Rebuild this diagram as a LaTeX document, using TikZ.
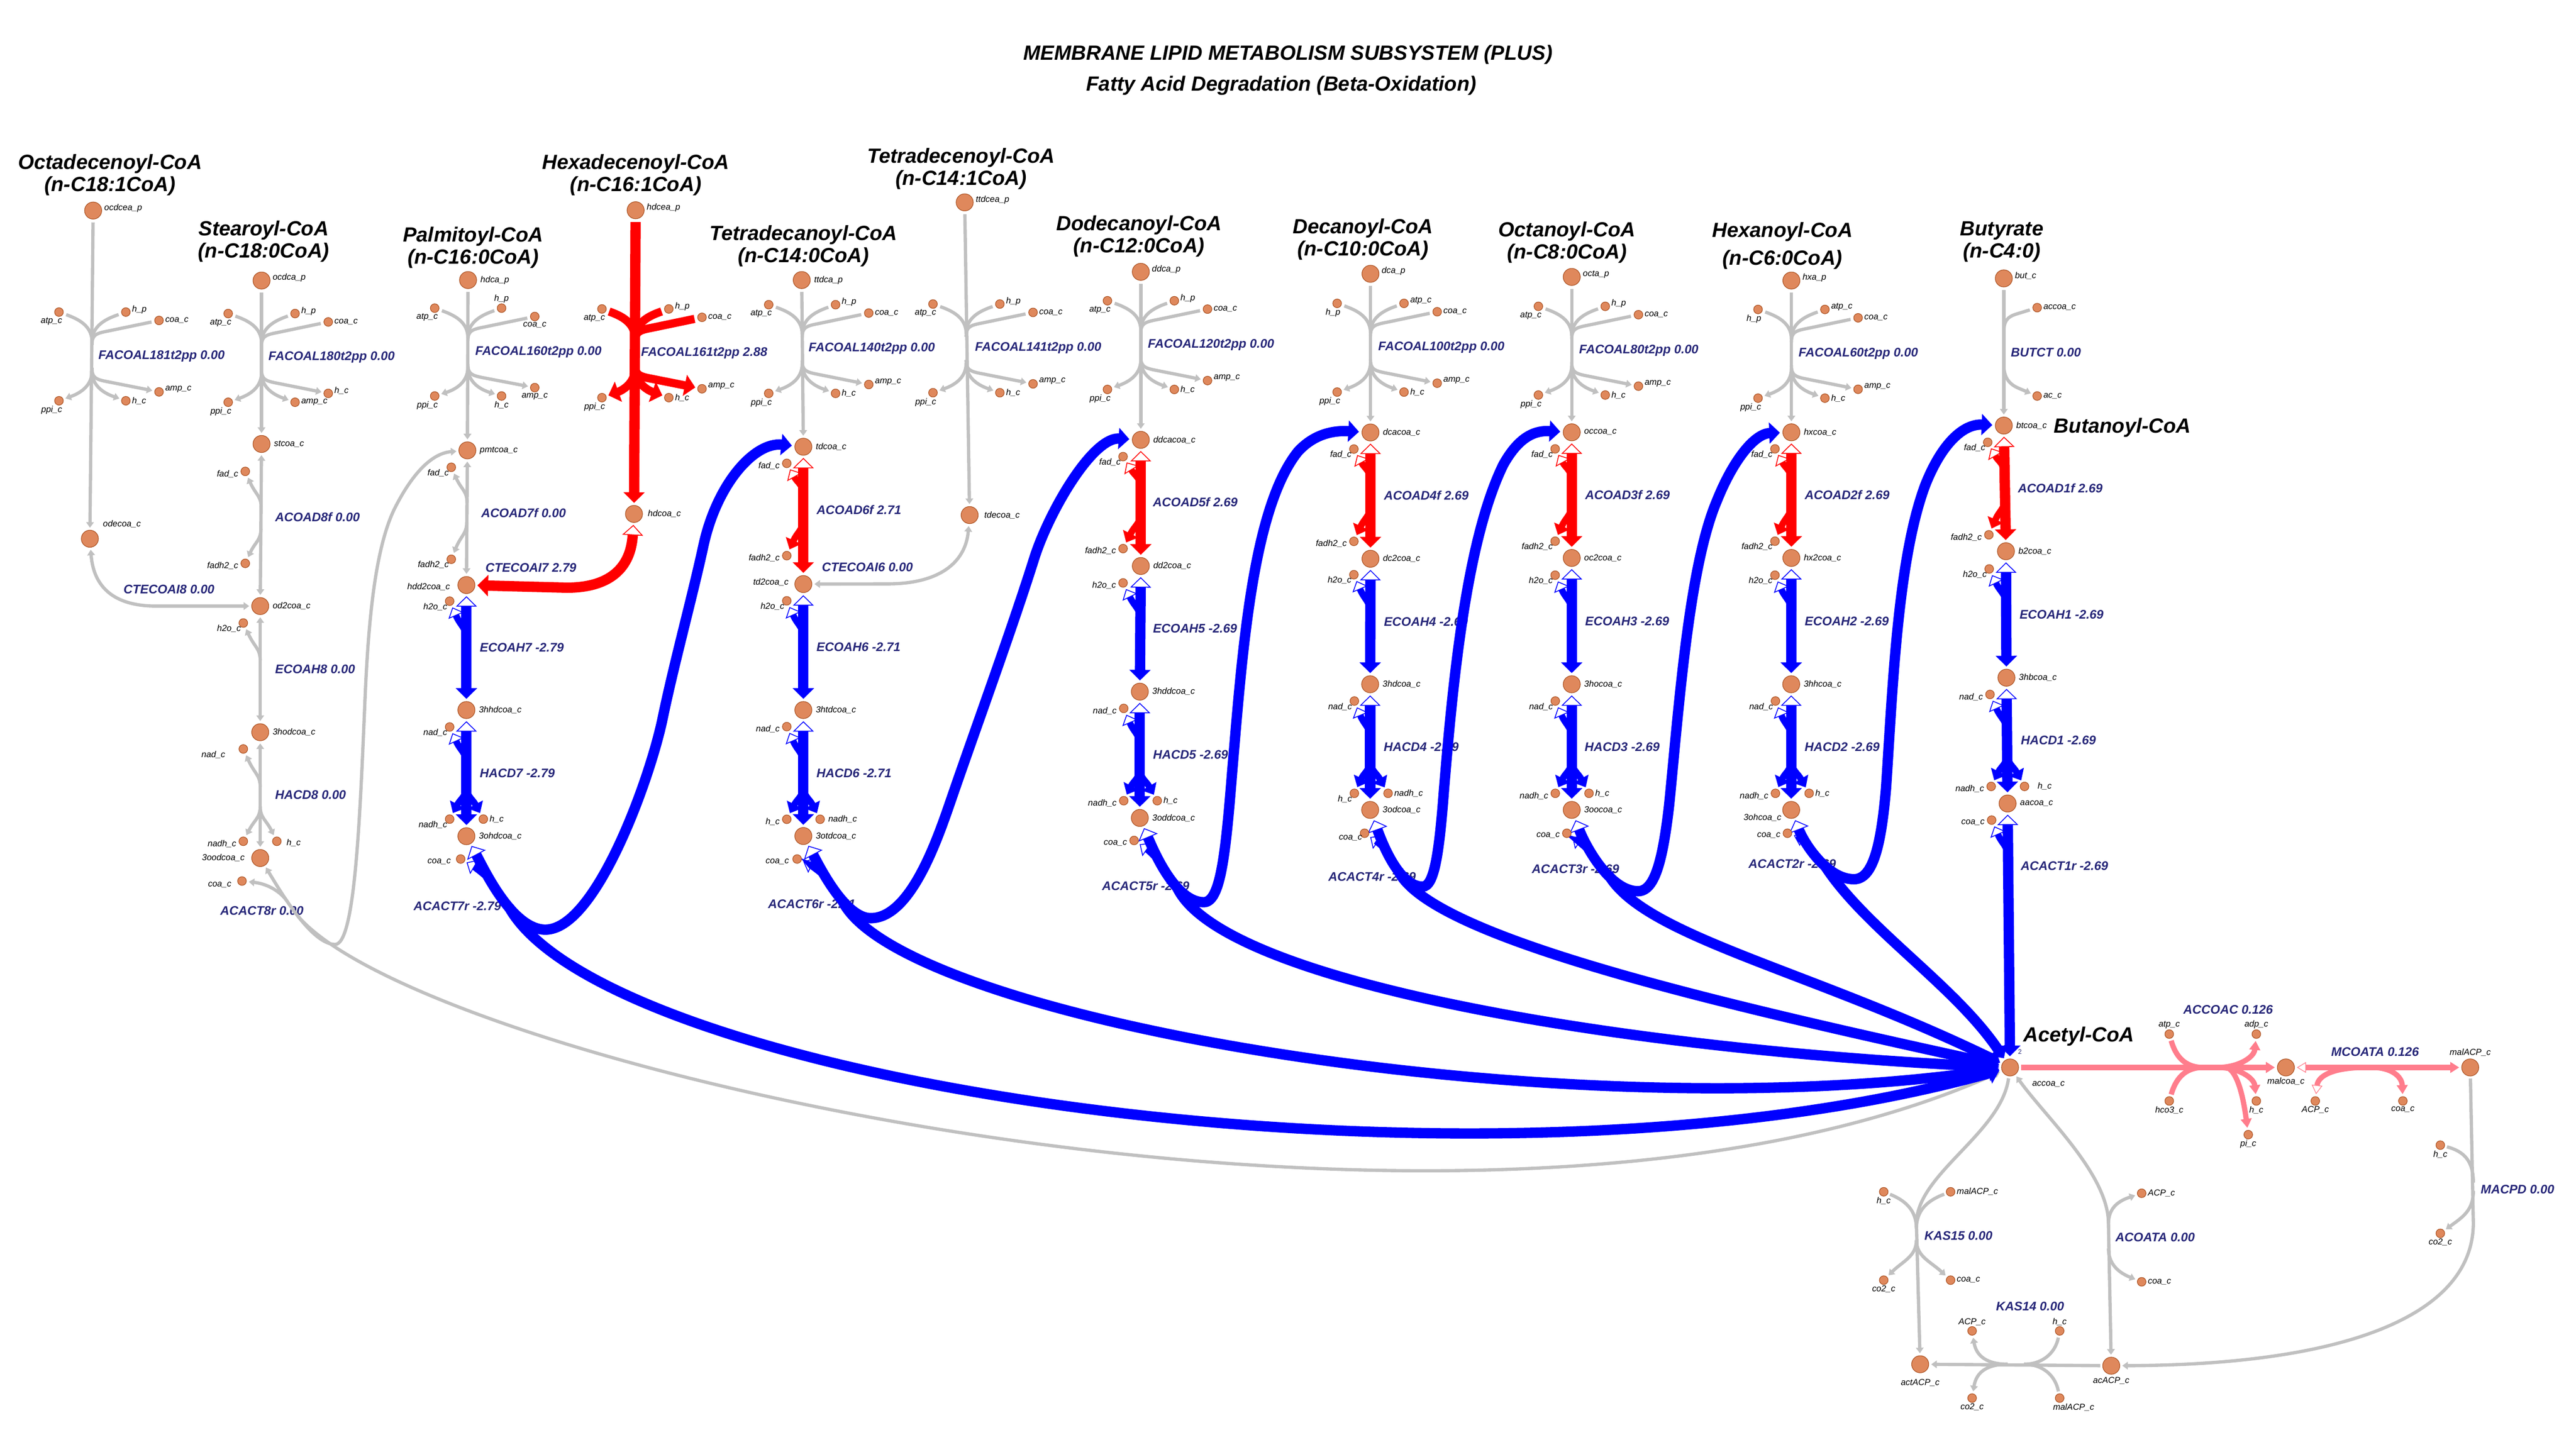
\documentclass[tikz,border=0pt]{standalone}
\usepackage{fontspec}
\setmainfont{Liberation Sans}
\usetikzlibrary{arrows.meta,calc}
\definecolor{metfill}{RGB}{223,136,92}
\definecolor{metdraw}{RGB}{168,78,30}
\definecolor{rxcol}{RGB}{38,38,120}
\definecolor{lgray}{RGB}{192,192,192}
\definecolor{pblue}{RGB}{0,0,255}
\definecolor{pred}{RGB}{255,0,0}
\definecolor{ppink}{RGB}{255,125,140}
\pgfdeclarelayer{rlayer}
\pgfdeclarelayer{elayer}
\pgfsetlayers{rlayer,elayer,main}
\newcommand{\mlabfont}{\fontsize{5.3}{6}\selectfont\itshape}
\newcommand{\rxlabfont}{\fontsize{7.6}{9}\selectfont\bfseries\itshape}
\newcommand{\ttlfont}{\fontsize{12.5}{13.5}\selectfont\bfseries\itshape}
\tikzset{
 every node/.style={inner sep=0pt,outer sep=0pt},
 met/.style={circle,fill=metfill,draw=metdraw,line width=0.35pt,minimum size=10.4pt},
 smet/.style={circle,fill=metfill,draw=metdraw,line width=0.35pt,minimum size=5.3pt},
 mlab/.style={font=\mlabfont,text=black},
 rlab/.style={font=\rxlabfont,text=rxcol,anchor=west},
 ttl/.style={font=\ttlfont,align=center,text=black},
 gl/.style={draw=lgray,line width=2pt},
 bl/.style={draw=pblue,line width=6.3pt},
 rl/.style={draw=pred,line width=6.3pt},
 bs/.style={draw=pblue,line width=4pt},
 rs/.style={draw=pred,line width=4pt},
 rsf/.style={draw=pred,line width=5pt},
 pl/.style={draw=ppink,line width=3.2pt},
 hopen/.tip={Triangle[open,width=12.7pt,length=6.3pt,line width=0.5pt]},
 ffill/.tip={Triangle[width=12.7pt,length=6.5pt]},
 sopen/.tip={Triangle[open,width=10pt,length=5.5pt,line width=0.5pt]},
 sfill/.tip={Triangle[width=10pt,length=6pt]},
 gtip/.tip={Triangle[width=4.6pt,length=3.4pt]},
 pfill/.tip={Triangle[width=6.5pt,length=5.5pt]},
 popen/.tip={Triangle[open,width=6.5pt,length=5.5pt,line width=0.4pt]},
 slabR/.style={anchor=west,xshift=3.8pt},
 slabRA/.style={anchor=west,xshift=3.8pt,yshift=1.6pt},
 slabL/.style={anchor=east,xshift=-4.3pt,yshift=-1.5pt},
 slabLB/.style={anchor=north east,xshift=-1.5pt,yshift=-1.2pt},
 slabBL/.style={anchor=north east,xshift=1.9pt,yshift=-3.3pt},
 slabB/.style={anchor=north,yshift=-3.3pt},
 slabA/.style={anchor=south,yshift=3.3pt},
 labR/.style={anchor=west,xshift=7.6pt},
 labRA/.style={anchor=west,xshift=6.8pt,yshift=1.6pt},
 labL/.style={anchor=east,xshift=-9.5pt},
}
\newcommand{\MetB}[5]{\node[met] (#1) at (#2,#3) {}; \node[mlab,#5] (#1l) at (#1) {#4};}
\newcommand{\MetS}[5]{\node[smet] (#1) at (#2,#3) {}; \node[mlab,#5] (#1l) at (#1) {#4};}
\newcommand{\RxL}[4]{\node[rlab] (#1) at (#2,#3) {#4};}
\newcommand{\FACn}[7]{%
 \MetS{#1in1}{#2-20.3}{#3}{#4}{slabBL}%
 \MetS{#1in2}{#2+20.4}{#3}{#5}{slabRA}%
 \MetS{#1in3}{#2+40.6}{#3+5.1}{coa\_c}{slabR}%
 \MetS{#1out1}{#2-20.3}{#3+54}{ppi\_c}{slabBL}%
 \MetS{#1out2}{#2+20.4}{#3+54}{#6}{slabR}%
 \MetS{#1out3}{#2+40.6}{#3+48.6}{#7}{slabRA}%
}
\newcommand{\FACe}[9]{%
 \draw[#2,-{#3},shorten <=2pt,shorten >=1.5pt] (#8) -- (#9);
 \draw[#4,shorten <=2pt] (#1in1) .. controls (#6-9,#7+4) and (#6,#7+8) .. (#6,#7+18);
 \draw[#4,shorten <=2pt] (#1in2) .. controls (#6+9,#7+4) and (#6,#7+8) .. (#6,#7+18);
 \draw[#4,shorten <=2pt] (#1in3) -- (#6+10,#7+11.5) .. controls (#6+2,#7+13) and (#6,#7+14) .. (#6,#7+20);
 \draw[#4,-{#5},shorten >=1.5pt] (#6,#7+36) .. controls (#6,#7+46) and (#6-9,#7+50) .. (#1out1);
 \draw[#4,-{#5},shorten >=1.5pt] (#6,#7+36) .. controls (#6,#7+46) and (#6+9,#7+50) .. (#1out2);
 \draw[#4,-{#5},shorten >=1.5pt] (#6,#7+34) .. controls (#6,#7+40) and (#6+2,#7+41) .. (#6+10,#7+42.5) -- (#1out3);
}
\newcommand{\stepmain}[5]{\draw[#1,{#2}-{#3},shorten <=1.6pt,shorten >=1.6pt] (#4) -- (#5);}
\newcommand{\sidein}[5]{\draw[#1,-{#2},shorten >=1.5pt] (#3,#4) .. controls (#3,#4-7) and (#3-3.5,#4-8) .. (#5);}
\newcommand{\sideoutL}[5]{\draw[#1,-{#2},shorten >=1.5pt] (#3,#4) .. controls (#3,#4+7) and (#3-3.5,#4+8) .. (#5);}
\newcommand{\sideoutR}[5]{\draw[#1,-{#2},shorten >=1.5pt] (#3,#4) .. controls (#3,#4+7) and (#3+3.5,#4+8) .. (#5);}

\begin{document}
\begin{tikzpicture}[x=1pt,y=-1pt]
\useasboundingbox (0,0) rectangle (1568,873.4);

% ---------- titles ----------
\node[ttl] (main1) at (784,33.2) {MEMBRANE LIPID METABOLISM SUBSYSTEM (PLUS)};
\node[ttl] (main2) at (780,52) {Fatty Acid Degradation (Beta-Oxidation)};
\node[ttl] (tA) at (67,106.4) {Octadecenoyl-CoA\\(n-C18:1CoA)};
\node[ttl] (tB) at (160.5,147) {Stearoyl-CoA\\(n-C18:0CoA)};
\node[ttl] (tC) at (288,150.6) {Palmitoyl-CoA\\(n-C16:0CoA)};
\node[ttl] (tD) at (387,106.5) {Hexadecenoyl-CoA\\(n-C16:1CoA)};
\node[ttl] (tE) at (489,149.7) {Tetradecanoyl-CoA\\(n-C14:0CoA)};
\node[ttl] (tF) at (585,102.9) {Tetradecenoyl-CoA\\(n-C14:1CoA)};
\node[ttl] (tG) at (693.3,143.9) {Dodecanoyl-CoA\\(n-C12:0CoA)};
\node[ttl] (tH) at (829.6,145.6) {Decanoyl-CoA\\(n-C10:0CoA)};
\node[ttl] (tI) at (953.8,147.5) {Octanoyl-CoA\\(n-C8:0CoA)};
\node[ttl] (tJ) at (1085,149.6) {Hexanoyl-CoA\\[3.3pt](n-C6:0CoA)};
\node[ttl] (tK) at (1218.5,147.1) {Butyrate\\(n-C4:0)};
\node[ttl,anchor=west] (tbut) at (1250.3,260.2) {Butanoyl-CoA};
\node[ttl] (tace) at (1265.4,631.1) {Acetyl-CoA};

% ---------- column A ----------
\MetB{ocdcea}{56.7}{128.2}{ocdcea\_p}{labRA}
\FACn{A}{56.2}{190}{atp\_c}{h\_p}{h\_c}{amp\_c}
\MetB{odecoa}{54.7}{328}{odecoa\_c}{anchor=west,xshift=8pt,yshift=9pt}

% ---------- column B ----------
\MetB{ocdca}{159.2}{170.8}{ocdca\_p}{labRA}
\FACn{B}{159.2}{190.9}{atp\_c}{h\_p}{amp\_c}{h\_c}
\MetB{stcoa}{159.2}{270.3}{stcoa\_c}{labR}
\MetS{Bfad}{149.3}{287}{fad\_c}{slabL}
\MetS{Bfadh}{149.3}{343}{fadh2\_c}{slabL}
\MetB{od2coa}{158.4}{369}{od2coa\_c}{labR}
\MetS{Bh2o}{148.1}{379.3}{h2o\_c}{slabLB}
\MetB{hyB}{158.4}{445.8}{3hodcoa\_c}{labR}
\MetS{Bnad}{148.1}{456}{nad\_c}{anchor=east,xshift=-11pt,yshift=-3.5pt}
\MetS{Bnadh}{148.1}{512.2}{nadh\_c}{slabL}
\MetS{Bh}{168.5}{512.2}{h\_c}{anchor=west,xshift=6pt,yshift=-1pt}
\MetB{oxB}{158.4}{522.4}{3oodcoa\_c}{labL}
\MetS{Bcoa}{147.3}{536.4}{coa\_c}{anchor=east,xshift=-6.5pt,yshift=-2.5pt}

% ---------- column C ----------
\MetB{hdca}{284.9}{170.5}{hdca\_p}{labR}
\MetS{Cin1}{264.6}{187.6}{atp\_c}{slabBL}
\MetS{Cin2}{305.3}{187.6}{h\_p}{slabA}
\MetS{Cin3}{325.5}{192.7}{coa\_c}{slabB}
\MetS{Cout1}{264.6}{241.1}{ppi\_c}{slabBL}
\MetS{Cout2}{305.3}{241.1}{h\_c}{slabB}
\MetS{Cout3}{325.5}{236}{amp\_c}{slabB}
\MetB{pmtcoa}{284.5}{274.2}{pmtcoa\_c}{labR}
\MetS{Cfad}{274.7}{284.5}{fad\_c}{slabLB}
\MetS{Cfadh}{274.7}{340.5}{fadh2\_c}{slabLB}
\MetB{hdd2coa}{283.9}{356.2}{hdd2coa\_c}{anchor=east,xshift=-10pt,yshift=-1pt}
\MetS{Ch2o}{273.7}{366}{h2o\_c}{slabLB}
\MetB{hyC}{283.9}{432.3}{3hhdcoa\_c}{labR}
\MetS{Cnad}{273.7}{442.6}{nad\_c}{slabLB}
\MetS{Cnadh}{273.7}{498.7}{nadh\_c}{slabLB}
\MetS{Ch}{294.2}{498.7}{h\_c}{slabR}
\MetB{oxC}{283.9}{509.1}{3ohdcoa\_c}{labR}
\MetS{Ccoa}{280.4}{523}{coa\_c}{anchor=east,xshift=-6pt,yshift=-1.5pt}

% ---------- column D ----------
\MetB{hdcea}{386.9}{128}{hdcea\_p}{labRA}
\FACn{D}{386.7}{188.1}{atp\_c}{h\_p}{h\_c}{amp\_c}
\MetB{hdcoa}{385.9}{312.9}{hdcoa\_c}{anchor=west,xshift=8.5pt}

% ---------- column E ----------
\MetB{ttdca}{488}{170.5}{ttdca\_p}{labR}
\FACn{E}{488.2}{185.5}{atp\_c}{h\_p}{h\_c}{amp\_c}
\MetB{tdcoa}{489}{272}{tdcoa\_c}{labR}
\MetS{Efad}{478.9}{282.1}{fad\_c}{slabL}
\MetS{Efadh}{478.9}{338.3}{fadh2\_c}{slabL}
\MetB{td2coa}{489}{355.6}{td2coa\_c}{anchor=east,xshift=-9pt,yshift=1pt}
\MetS{Eh2o}{478.9}{365.8}{h2o\_c}{slabLB}
\MetB{hyE}{489}{432.3}{3htdcoa\_c}{labR}
\MetS{Enad}{478.9}{442.4}{nad\_c}{slabL}
\MetS{Eh}{478.9}{498.8}{h\_c}{slabL}
\MetS{Enadh}{499.2}{498.8}{nadh\_c}{anchor=west,xshift=5pt}
\MetB{oxE}{489}{509}{3otdcoa\_c}{labR}
\MetS{Ecoa}{485.2}{523}{coa\_c}{anchor=east,xshift=-5pt,yshift=-1.5pt}

% ---------- column F ----------
\MetB{ttdcea}{587.2}{123.2}{ttdcea\_p}{labRA}
\FACn{F}{588.2}{185.1}{atp\_c}{h\_p}{h\_c}{amp\_c}
\MetB{tdecoa}{590.2}{313.6}{tdecoa\_c}{anchor=west,xshift=9pt}

% ---------- column G ----------
\MetB{ddca}{694.4}{165.5}{ddca\_p}{labRA}
\FACn{G}{694.4}{183.1}{atp\_c}{h\_p}{h\_c}{amp\_c}
\MetB{ddcacoa}{694.4}{267.8}{ddcacoa\_c}{labR}
\MetS{Gfad}{683.6}{278}{fad\_c}{slabLB}
\MetS{Gfadh}{683.6}{334}{fadh2\_c}{slabL}
\MetB{dd2coa}{694.4}{344.6}{dd2coa\_c}{labR}
\MetS{Gh2o}{683.6}{354.9}{h2o\_c}{slabL}
\MetB{hyG}{693.8}{421.1}{3hddcoa\_c}{labR}
\MetS{Gnad}{684}{431.3}{nad\_c}{slabL}
\MetS{Gnadh}{684}{487.5}{nadh\_c}{slabL}
\MetS{Gh}{704.4}{487.5}{h\_c}{slabR}
\MetB{oxG}{693.8}{498}{3oddcoa\_c}{labR}
\MetS{Gcoa}{690.3}{511.7}{coa\_c}{slabL}

% ---------- column H ----------
\MetB{dca}{834.2}{166.7}{dca\_p}{labRA}
\FACn{H}{834.2}{184.7}{h\_p}{atp\_c}{h\_c}{amp\_c}
\MetB{dcacoa}{834.2}{263.3}{dcacoa\_c}{labR}
\MetS{Hfad}{824.1}{273.4}{fad\_c}{slabLB}
\MetS{Hfadh}{824.1}{329.6}{fadh2\_c}{slabL}
\MetB{dc2coa}{834.2}{340.2}{dc2coa\_c}{labR}
\MetS{Hh2o}{824.1}{349.9}{h2o\_c}{slabLB}
\MetB{hyH}{834}{416.6}{3hdcoa\_c}{labR}
\MetS{Hnad}{824.4}{426.8}{nad\_c}{slabLB}
\MetS{Hh}{824.4}{483}{h\_c}{slabLB}
\MetS{Hnadh}{844.9}{483}{nadh\_c}{slabR}
\MetB{oxH}{834}{493.1}{3odcoa\_c}{labR}
\MetS{Hcoa}{830.6}{507.3}{coa\_c}{slabLB}

% ---------- column I ----------
\MetB{octa}{956.7}{168.6}{octa\_p}{labRA}
\FACn{I}{956.7}{186.5}{atp\_c}{h\_p}{h\_c}{amp\_c}
\MetB{occoa}{956.7}{263.2}{occoa\_c}{labR}
\MetS{Ifad}{946.6}{273.3}{fad\_c}{slabLB}
\MetS{Ifadh}{946.6}{329.5}{fadh2\_c}{slabLB}
\MetB{oc2coa}{956.7}{339.7}{oc2coa\_c}{labR}
\MetS{Ih2o}{946.6}{350.2}{h2o\_c}{slabLB}
\MetB{hyI}{956.7}{416.6}{3hocoa\_c}{labR}
\MetS{Inad}{946.7}{426.8}{nad\_c}{slabLB}
\MetS{Inadh}{946.7}{483}{nadh\_c}{slabL}
\MetS{Ih}{967.2}{483}{h\_c}{slabR}
\MetB{oxI}{956.7}{493.1}{3oocoa\_c}{labR}
\MetS{Icoa}{953.7}{507.3}{coa\_c}{slabL}

% ---------- column J ----------
\MetB{hxa}{1090.4}{170.8}{hxa\_p}{labRA}
\FACn{J}{1090.4}{188.4}{h\_p}{atp\_c}{h\_c}{amp\_c}
\MetB{hxcoa}{1090.4}{263.2}{hxcoa\_c}{labR}
\MetS{Jfad}{1080.4}{273.3}{fad\_c}{slabLB}
\MetS{Jfadh}{1080.4}{329.5}{fadh2\_c}{slabLB}
\MetB{hx2coa}{1090.4}{339.7}{hx2coa\_c}{labR}
\MetS{Jh2o}{1080.4}{350.2}{h2o\_c}{slabLB}
\MetB{hyJ}{1090.3}{416.6}{3hhcoa\_c}{labR}
\MetS{Jnad}{1080.7}{426.8}{nad\_c}{slabLB}
\MetS{Jnadh}{1080.7}{483}{nadh\_c}{slabL}
\MetS{Jh}{1101.2}{483}{h\_c}{slabR}
\MetB{oxJ}{1090.3}{493.1}{3ohcoa\_c}{anchor=east,xshift=-6pt,yshift=-4.8pt}
\MetS{Jcoa}{1088}{507.3}{coa\_c}{slabL}

% ---------- column K ----------
\MetB{but}{1219.7}{169.5}{but\_c}{labRA}
\MetS{Kaccoa}{1240}{187.3}{accoa\_c}{slabR}
\MetS{Kac}{1240}{241.1}{ac\_c}{slabR}
\MetB{btcoa}{1219.7}{259.1}{btcoa\_c}{labR}
\MetS{Kfad}{1209.9}{269.3}{fad\_c}{slabLB}
\MetS{Kfadh}{1210.6}{325.6}{fadh2\_c}{slabL}
\MetB{b2coa}{1221}{335.6}{b2coa\_c}{labR}
\MetS{Kh2o}{1210.8}{346.4}{h2o\_c}{slabLB}
\MetB{hyK}{1221.3}{412.6}{3hbcoa\_c}{labR}
\MetS{Knad}{1211.3}{422.8}{nad\_c}{slabL}
\MetS{Knadh}{1212}{478.8}{nadh\_c}{slabL}
\MetS{Kh}{1232.3}{478.8}{h\_c}{anchor=west,xshift=8pt}
\MetB{aacoa}{1222}{489.2}{aacoa\_c}{labR}
\MetS{Kcoa}{1212.3}{499.3}{coa\_c}{slabL}

% ---------- acetyl-CoA region ----------
\MetB{accoa}{1223.5}{649.9}{accoa\_c}{anchor=west,xshift=13.5pt,yshift=-10.2pt}
\node[font=\fontsize{4}{4}\selectfont,text=rxcol] (two) at (1229.5,640.3) {2};
\MetB{malcoa}{1391.4}{649.9}{malcoa\_c}{anchor=north,yshift=-6.3pt}
\MetB{malACP}{1503.6}{649.9}{malACP\_c}{anchor=south,yshift=7pt}
\MetS{atpA}{1320.4}{629.6}{atp\_c}{slabA}
\MetS{adpA}{1373.4}{629.6}{adp\_c}{slabA}
\MetS{hco3}{1320.4}{670.3}{hco3\_c}{slabB}
\MetS{hA}{1373.4}{670.3}{h\_c}{slabB}
\MetS{piA}{1368.5}{690.8}{pi\_c}{slabB}
\MetS{ACPm}{1409.3}{670.3}{ACP\_c}{slabB}
\MetS{coam}{1462.6}{670.3}{coa\_c}{slabB}
\MetS{hmac}{1485.4}{697.2}{h\_c}{slabB}
\MetS{co2mac}{1485.4}{750.9}{co2\_c}{slabB}
\MetS{hk15}{1146.6}{725.6}{h\_c}{slabB}
\MetS{malk15}{1187.3}{725.6}{malACP\_c}{slabR}
\MetS{co2k15}{1146.6}{779.4}{co2\_c}{slabB}
\MetS{coak15}{1187.3}{779.4}{coa\_c}{slabR}
\MetS{ACPa}{1303.6}{726.5}{ACP\_c}{slabR}
\MetS{coaa}{1303.6}{780.4}{coa\_c}{slabR}
\MetS{ACPk14}{1200.4}{810.3}{ACP\_c}{slabA}
\MetS{hk14}{1253.7}{810.3}{h\_c}{slabA}
\MetS{co2k14}{1200.4}{851.2}{co2\_c}{slabB}
\MetS{malk14}{1253.7}{851.2}{malACP\_c}{anchor=north,xshift=8.5pt,yshift=-3.3pt}
\MetB{actACP}{1168.8}{830.6}{actACP\_c}{anchor=north,yshift=-9pt}
\MetB{acACP}{1285.1}{831.5}{acACP\_c}{anchor=north,yshift=-7pt}

% ---------- reaction labels ----------
\begin{pgfonlayer}{rlayer}
\RxL{rA1}{59.9}{217}{FACOAL181t2pp 0.00}
\RxL{rB1}{163.4}{217.4}{FACOAL180t2pp 0.00}
\RxL{rB2}{167.5}{314.9}{ACOAD8f 0.00}
\RxL{rB3}{167.5}{407.4}{ECOAH8 0.00}
\RxL{rB4}{167.5}{484}{HACD8 0.00}
\RxL{rB5}{134.1}{554.6}{ACACT8r 0.00}
\RxL{rB6}{75.2}{358.9}{CTECOAI8 0.00}
\RxL{rC1}{289.3}{214.3}{FACOAL160t2pp 0.00}
\RxL{rC2}{292.9}{312.4}{ACOAD7f 0.00}
\RxL{rC3}{295.5}{345.7}{CTECOAI7 2.79}
\RxL{rC4}{292.1}{394.2}{ECOAH7 -2.79}
\RxL{rC5}{292.1}{470.8}{HACD7 -2.79}
\RxL{rC6}{251.8}{551.6}{ACACT7r -2.79}
\RxL{rD1}{390.2}{215}{FACOAL161t2pp 2.88}
\RxL{rE1}{492.2}{212.2}{FACOAL140t2pp 0.00}
\RxL{rE2}{497.1}{310.4}{ACOAD6f 2.71}
\RxL{rE3}{500.3}{345.3}{CTECOAI6 0.00}
\RxL{rE4}{497}{393.8}{ECOAH6 -2.71}
\RxL{rE5}{497}{470.7}{HACD6 -2.71}
\RxL{rE6}{467.5}{550.5}{ACACT6r -2.71}
\RxL{rF1}{593.5}{211.8}{FACOAL141t2pp 0.00}
\RxL{rG1}{698.7}{210.1}{FACOAL120t2pp 0.00}
\RxL{rG2}{701.8}{305.7}{ACOAD5f 2.69}
\RxL{rG3}{701.9}{382.6}{ECOAH5 -2.69}
\RxL{rG4}{701.9}{459.4}{HACD5 -2.69}
\RxL{rG5}{670.8}{539.3}{ACACT5r -2.69}
\RxL{rH1}{838.9}{211.4}{FACOAL100t2pp 0.00}
\RxL{rH2}{842.4}{301.7}{ACOAD4f 2.69}
\RxL{rH3}{842.4}{378.5}{ECOAH4 -2.69}
\RxL{rH4}{842.3}{454.9}{HACD4 -2.69}
\RxL{rH5}{808.6}{533.7}{ACACT4r -2.69}
\RxL{rI1}{961.2}{213.3}{FACOAL80t2pp 0.00}
\RxL{rI2}{964.9}{301.2}{ACOAD3f 2.69}
\RxL{rI3}{964.9}{378.1}{ECOAH3 -2.69}
\RxL{rI4}{964.6}{454.9}{HACD3 -2.69}
\RxL{rI5}{932.4}{529.2}{ACACT3r -2.69}
\RxL{rJ1}{1094.8}{215.4}{FACOAL60t2pp 0.00}
\RxL{rJ2}{1098.6}{301.2}{ACOAD2f 2.69}
\RxL{rJ3}{1098.6}{378.1}{ECOAH2 -2.69}
\RxL{rJ4}{1098.5}{454.9}{HACD2 -2.69}
\RxL{rJ5}{1064.3}{525.8}{ACACT2r -2.69}
\RxL{rK1}{1224}{214.4}{BUTCT 0.00}
\RxL{rK2}{1228.3}{297.2}{ACOAD1f 2.69}
\RxL{rK3}{1229.3}{374.2}{ECOAH1 -2.69}
\RxL{rK4}{1230.1}{450.7}{HACD1 -2.69}
\RxL{rK5}{1230}{527.2}{ACACT1r -2.69}
\RxL{rX1}{1329}{614.7}{ACCOAC 0.126}
\RxL{rX2}{1419}{640.4}{MCOATA 0.126}
\RxL{rX3}{1510}{724.2}{MACPD 0.00}
\RxL{rX4}{1171.4}{752.5}{KAS15 0.00}
\RxL{rX5}{1287.7}{753.4}{ACOATA 0.00}
\RxL{rX6}{1215}{795.2}{KAS14 0.00}
\end{pgfonlayer}

% ---------- edges ----------
\begin{pgfonlayer}{elayer}
% FACOAL transport reactions
\FACe{A}{gl}{gtip}{gl}{gtip}{56}{190}{ocdcea}{odecoa}
\FACe{B}{gl}{gtip}{gl}{gtip}{159.2}{190.9}{ocdca}{stcoa}
\FACe{C}{gl}{gtip}{gl}{gtip}{284.8}{187.6}{hdca}{pmtcoa}
\FACe{D}{rl}{ffill}{rsf}{ffill}{386.6}{188.1}{hdcea}{hdcoa}
\FACe{E}{gl}{gtip}{gl}{gtip}{488.3}{185.5}{ttdca}{tdcoa}
\FACe{F}{gl}{gtip}{gl}{gtip}{588.1}{185.1}{ttdcea}{tdecoa}
\FACe{G}{gl}{gtip}{gl}{gtip}{694.4}{183.1}{ddca}{ddcacoa}
\FACe{H}{gl}{gtip}{gl}{gtip}{834.2}{184.7}{dca}{dcacoa}
\FACe{I}{gl}{gtip}{gl}{gtip}{956.7}{186.5}{octa}{occoa}
\FACe{J}{gl}{gtip}{gl}{gtip}{1090.4}{188.4}{hxa}{hxcoa}
% BUTCT
\draw[gl,-{gtip},shorten <=2pt,shorten >=1.5pt] (but) -- (btcoa);
\draw[gl,shorten <=2pt] (Kaccoa) -- (1228,191) .. controls (1221,193) and (1219.7,196) .. (1219.7,203);
\draw[gl,-{gtip},shorten >=1.5pt] (1219.7,222) .. controls (1219.7,230) and (1223,234) .. (1229,236.5) -- (Kac);
% CTECOAI
\draw[gl,{gtip}-{gtip},shorten <=1.5pt,shorten >=1.5pt] (odecoa) .. controls (57,358) and (70,369) .. (95,369) -- (od2coa);
\draw[rl,{hopen}-{ffill},shorten <=1.5pt,shorten >=1.5pt] (hdcoa) .. controls (384,345) and (372,357.8) .. (345,357.8) -- (hdd2coa);
\draw[gl,{gtip}-{gtip},shorten <=1.5pt,shorten >=1.5pt] (tdecoa) .. controls (588,340) and (575,355.5) .. (540,355.5) -- (td2coa);

% column B (gray)
\stepmain{gl}{gtip}{gtip}{stcoa}{od2coa}
\sidein{gl}{gtip}{159}{309}{Bfad}
\sideoutL{gl}{gtip}{158.8}{322}{Bfadh}
\stepmain{gl}{gtip}{gtip}{od2coa}{hyB}
\sidein{gl}{gtip}{158.4}{402}{Bh2o}
\stepmain{gl}{gtip}{gtip}{hyB}{oxB}
\sidein{gl}{gtip}{158.4}{479}{Bnad}
\sideoutL{gl}{gtip}{158.4}{491}{Bnadh}
\sideoutR{gl}{gtip}{158.4}{491}{Bh}
\draw[gl,{gtip}-{gtip},shorten <=1.5pt,shorten >=1.5pt] (oxB) .. controls (172,545) and (190,575) .. (204,575) .. controls (216,575) and (219,500) .. (222,430) .. controls (224,380) and (228,335) .. (240,310) .. controls (250,290) and (262,276) .. (pmtcoa);
\draw[gl,-{gtip},shorten >=1.5pt] (181.4,557.8) .. controls (260,650) and (900,795) .. (accoa);
\draw[gl,-{gtip},shorten >=1.5pt] (174.8,548.7) .. controls (170,542) and (162,538) .. (Bcoa);

% column C
\stepmain{gl}{gtip}{gtip}{pmtcoa}{hdd2coa}
\sidein{gl}{gtip}{284.3}{306}{Cfad}
\sideoutL{gl}{gtip}{284.1}{318}{Cfadh}
\stepmain{bl}{hopen}{ffill}{hdd2coa}{hyC}
\sidein{bs}{sopen}{283.9}{389.2}{Ch2o}
\stepmain{bl}{hopen}{ffill}{hyC}{oxC}
\sidein{bs}{sopen}{283.9}{465.3}{Cnad}
\sideoutL{bs}{sfill}{283.9}{478.1}{Cnadh}
\sideoutR{bs}{sfill}{283.9}{478.1}{Ch}
\draw[bl,{hopen}-{ffill},shorten <=1.5pt,shorten >=1.8pt] (oxC) .. controls (295,530) and (312,566) .. (332,566) .. controls (362,566) and (394.4,478) .. (403,439) .. controls (410,405) and (421,365) .. (428,333) .. controls (436,295) and (459,269) .. (tdcoa);
\draw[bl,-{ffill},shorten >=1.5pt] (309.8,552.3) .. controls (370,660) and (900,740) .. (accoa);
\draw[bs,-{sopen},shorten >=1.5pt] (298.3,535.6) .. controls (293,531) and (289,528) .. (Ccoa);

% column E
\stepmain{rl}{hopen}{ffill}{tdcoa}{td2coa}
\sidein{rs}{sopen}{489}{302}{Efad}
\sideoutL{rs}{sfill}{489}{315.6}{Efadh}
\stepmain{bl}{hopen}{ffill}{td2coa}{hyE}
\sidein{bs}{sopen}{489}{388.6}{Eh2o}
\stepmain{bl}{hopen}{ffill}{hyE}{oxE}
\sidein{bs}{sopen}{489}{465.3}{Enad}
\sideoutL{bs}{sfill}{489}{478}{Eh}
\sideoutR{bs}{sfill}{489}{478}{Enadh}
\draw[bl,{hopen}-{ffill},shorten <=1.5pt,shorten >=1.8pt] (oxE) .. controls (500,530) and (515,559) .. (530,559) .. controls (555,559) and (571.5,508.3) .. (579.7,484.6) .. controls (594.4,442) and (616,382.8) .. (629.5,340) .. controls (638.5,311.5) and (665,266) .. (ddcacoa);
\draw[bl,-{ffill},shorten >=1.5pt] (512.4,547.7) .. controls (545,620) and (950,690) .. (accoa);
\draw[bs,-{sopen},shorten >=1.5pt] (502.3,533.8) .. controls (497,529) and (492,526) .. (Ecoa);

% column G
\stepmain{rl}{hopen}{ffill}{ddcacoa}{dd2coa}
\sidein{rs}{sopen}{694.4}{297.8}{Gfad}
\sideoutL{rs}{sfill}{694.4}{311.6}{Gfadh}
\stepmain{bl}{hopen}{ffill}{dd2coa}{hyG}
\sidein{bs}{sopen}{694.2}{377.6}{Gh2o}
\stepmain{bl}{hopen}{ffill}{hyG}{oxG}
\sidein{bs}{sopen}{693.8}{454.1}{Gnad}
\sideoutL{bs}{sfill}{693.8}{467}{Gnadh}
\sideoutR{bs}{sfill}{693.8}{467}{Gh}
\draw[bl,{hopen}-{ffill},shorten <=1.5pt,shorten >=1.8pt] (oxG) .. controls (703,520) and (716,549.3) .. (732.7,549.3) .. controls (743,549.3) and (746,520) .. (750,470) .. controls (756,400) and (762,310) .. (790,275) .. controls (800,264) and (812,262) .. (dcacoa);
\draw[bl,-{ffill},shorten >=1.5pt] (716.5,540.4) .. controls (745,600) and (1000,640) .. (accoa);
\draw[bs,-{sopen},shorten >=1.5pt] (707.1,526.6) .. controls (703,521) and (698,517) .. (Gcoa);

% column H
\stepmain{rl}{hopen}{ffill}{dcacoa}{dc2coa}
\sidein{rs}{sopen}{834.2}{293.3}{Hfad}
\sideoutL{rs}{sfill}{834.2}{307.2}{Hfadh}
\stepmain{bl}{hopen}{ffill}{dc2coa}{hyH}
\sidein{bs}{sopen}{834.1}{373.2}{Hh2o}
\stepmain{bl}{hopen}{ffill}{hyH}{oxH}
\sidein{bs}{sopen}{834}{449.6}{Hnad}
\sideoutL{bs}{sfill}{834}{462.1}{Hh}
\sideoutR{bs}{sfill}{834}{462.1}{Hnadh}
\draw[bl,{hopen}-{ffill},shorten <=1.5pt,shorten >=1.8pt] (oxH) .. controls (842,515) and (852,539.8) .. (865.9,539.8) .. controls (873,539.8) and (876,520) .. (879,480) .. controls (884,420) and (892,330) .. (915,283) .. controls (925,265) and (935,262) .. (occoa);
\draw[bl,-{ffill},shorten >=1.5pt] (851.1,530.1) .. controls (870,570) and (1040,610) .. (accoa);
\draw[bs,-{sopen},shorten >=1.5pt] (843.6,517.3) .. controls (839,513) and (836,511) .. (Hcoa);

% column I
\stepmain{rl}{hopen}{ffill}{occoa}{oc2coa}
\sidein{rs}{sopen}{956.7}{293.2}{Ifad}
\sideoutL{rs}{sfill}{956.7}{306.7}{Ifadh}
\stepmain{bl}{hopen}{ffill}{oc2coa}{hyI}
\sidein{bs}{sopen}{956.7}{372.7}{Ih2o}
\stepmain{bl}{hopen}{ffill}{hyI}{oxI}
\sidein{bs}{sopen}{956.7}{449.6}{Inad}
\sideoutL{bs}{sfill}{956.7}{462.1}{Inadh}
\sideoutR{bs}{sfill}{956.7}{462.1}{Ih}
\draw[bl,{hopen}-{ffill},shorten <=1.5pt,shorten >=1.8pt] (oxI) .. controls (965,515) and (980,542.6) .. (997,542.6) .. controls (1007,542.6) and (1012,525) .. (1016,490) .. controls (1022,430) and (1028,345) .. (1045,305) .. controls (1055,280) and (1068,264) .. (hxcoa);
\draw[bl,-{ffill},shorten >=1.5pt] (978.7,531.9) .. controls (1000,570) and (1100,590) .. (accoa);
\draw[bs,-{sopen},shorten >=1.5pt] (968,518.6) .. controls (963,514) and (959,511) .. (Icoa);

% column J
\stepmain{rl}{hopen}{ffill}{hxcoa}{hx2coa}
\sidein{rs}{sopen}{1090.4}{293.2}{Jfad}
\sideoutL{rs}{sfill}{1090.4}{306.7}{Jfadh}
\stepmain{bl}{hopen}{ffill}{hx2coa}{hyJ}
\sidein{bs}{sopen}{1090.4}{372.7}{Jh2o}
\stepmain{bl}{hopen}{ffill}{hyJ}{oxJ}
\sidein{bs}{sopen}{1090.3}{449.6}{Jnad}
\sideoutL{bs}{sfill}{1090.3}{462.1}{Jnadh}
\sideoutR{bs}{sfill}{1090.3}{462.1}{Jh}
\draw[bl,{hopen}-{ffill},shorten <=1.5pt,shorten >=1.8pt] (oxJ) .. controls (1098,513) and (1112,535.3) .. (1128.5,535.3) .. controls (1140,535.3) and (1145,515) .. (1148,480) .. controls (1152,420) and (1155,340) .. (1172,295) .. controls (1182,270) and (1195,258) .. (btcoa);
\draw[bl,-{ffill},shorten >=1.5pt] (1110.3,526.4) .. controls (1135,565) and (1190,600) .. (accoa);
\draw[bs,-{sopen},shorten >=1.5pt] (1100.9,515.3) .. controls (1096,511) and (1093,509) .. (Jcoa);

% column K
\stepmain{rl}{hopen}{ffill}{btcoa}{b2coa}
\sidein{rs}{sopen}{1220}{289.1}{Kfad}
\sideoutL{rs}{sfill}{1220.6}{302.6}{Kfadh}
\stepmain{bl}{hopen}{ffill}{b2coa}{hyK}
\sidein{bs}{sopen}{1221.1}{368.6}{Kh2o}
\stepmain{bl}{hopen}{ffill}{hyK}{aacoa}
\sidein{bs}{sopen}{1221.5}{445.6}{Knad}
\sideoutL{bs}{sfill}{1221.8}{458.2}{Knadh}
\sideoutR{bs}{sfill}{1221.8}{458.2}{Kh}
\stepmain{bl}{hopen}{ffill}{aacoa}{accoa}
\sidein{bs}{sopen}{1222.3}{522.2}{Kcoa}

% ACCOAC
\draw[pl,-{pfill},shorten <=1.5pt,shorten >=1.5pt] (accoa) -- (malcoa);
\draw[pl,shorten <=1.5pt] (atpA) .. controls (1324,642) and (1329,649.9) .. (1341,649.9);
\draw[pl,shorten <=1.5pt] (hco3) .. controls (1324,658) and (1329,649.9) .. (1341,649.9);
\draw[pl,-{pfill},shorten >=1.5pt] (1350,649.9) .. controls (1362,649.9) and (1372,644) .. (adpA);
\draw[pl,-{pfill},shorten >=1.5pt] (1350,649.9) .. controls (1362,649.9) and (1372,656) .. (hA);
\draw[pl,-{pfill},shorten >=1.5pt] (1356,650) .. controls (1363,654) and (1366,672) .. (piA);
% MCOATA
\draw[pl,{popen}-{pfill},shorten <=1.5pt,shorten >=1.5pt] (malcoa) -- (malACP);
\draw[pl,-{popen},shorten >=1.5pt] (1440,649.9) .. controls (1420,649.9) and (1411,655) .. (ACPm);
\draw[pl,-{pfill},shorten >=1.5pt] (1444,649.9) .. controls (1455,649.9) and (1462,655) .. (coam);
% MACPD
\draw[gl,-{gtip},shorten <=1.5pt,shorten >=1.5pt] (malACP) -- (1505.5,745) .. controls (1505,800) and (1430,831) .. (acACP);
\draw[gl,shorten <=1.5pt] (hmac) .. controls (1500,701) and (1505.5,707) .. (1505.5,720);
\draw[gl,-{gtip},shorten >=1.5pt] (1505.5,725) .. controls (1505.5,737) and (1499,741) .. (co2mac);
% KAS15
\draw[gl,-{gtip},shorten <=1.5pt,shorten >=1.5pt] (accoa) .. controls (1218,690) and (1166.5,715) .. (1166.5,745) -- (actACP);
\draw[gl,shorten <=1.5pt] (hk15) .. controls (1160,731) and (1166.5,737) .. (1166.5,748);
\draw[gl,shorten <=1.5pt] (malk15) .. controls (1173,731) and (1166.5,737) .. (1166.5,748);
\draw[gl,-{gtip},shorten >=1.5pt] (1166.5,755) .. controls (1166.5,765) and (1158,768) .. (co2k15);
\draw[gl,-{gtip},shorten >=1.5pt] (1166.5,755) .. controls (1166.5,765) and (1175,768) .. (coak15);
% ACOATA
\draw[gl,{gtip}-{gtip},shorten <=1.5pt,shorten >=1.5pt] (accoa) .. controls (1245,680) and (1283.4,715) .. (1283.4,745) -- (acACP);
\draw[gl,-{gtip},shorten >=1.5pt] (1283.4,745) .. controls (1283.4,735) and (1290,731) .. (ACPa);
\draw[gl,-{gtip},shorten >=1.5pt] (1283.4,760) .. controls (1283.4,770) and (1290,775) .. (coaa);
% KAS14
\draw[gl,-{gtip},shorten <=1.5pt,shorten >=1.5pt] (acACP) -- (actACP);
\draw[gl,shorten <=1.5pt] (hk14) .. controls (1251,824) and (1243,830.6) .. (1232,830.6);
\draw[gl,shorten <=1.5pt] (malk14) .. controls (1251,837) and (1243,830.6) .. (1232,830.6);
\draw[gl,-{gtip},shorten >=1.5pt] (1222,830.6) .. controls (1210,830.6) and (1203,826) .. (ACPk14);
\draw[gl,-{gtip},shorten >=1.5pt] (1222,830.6) .. controls (1210,830.6) and (1203,835) .. (co2k14);
\end{pgfonlayer}
\end{tikzpicture}
\end{document}
